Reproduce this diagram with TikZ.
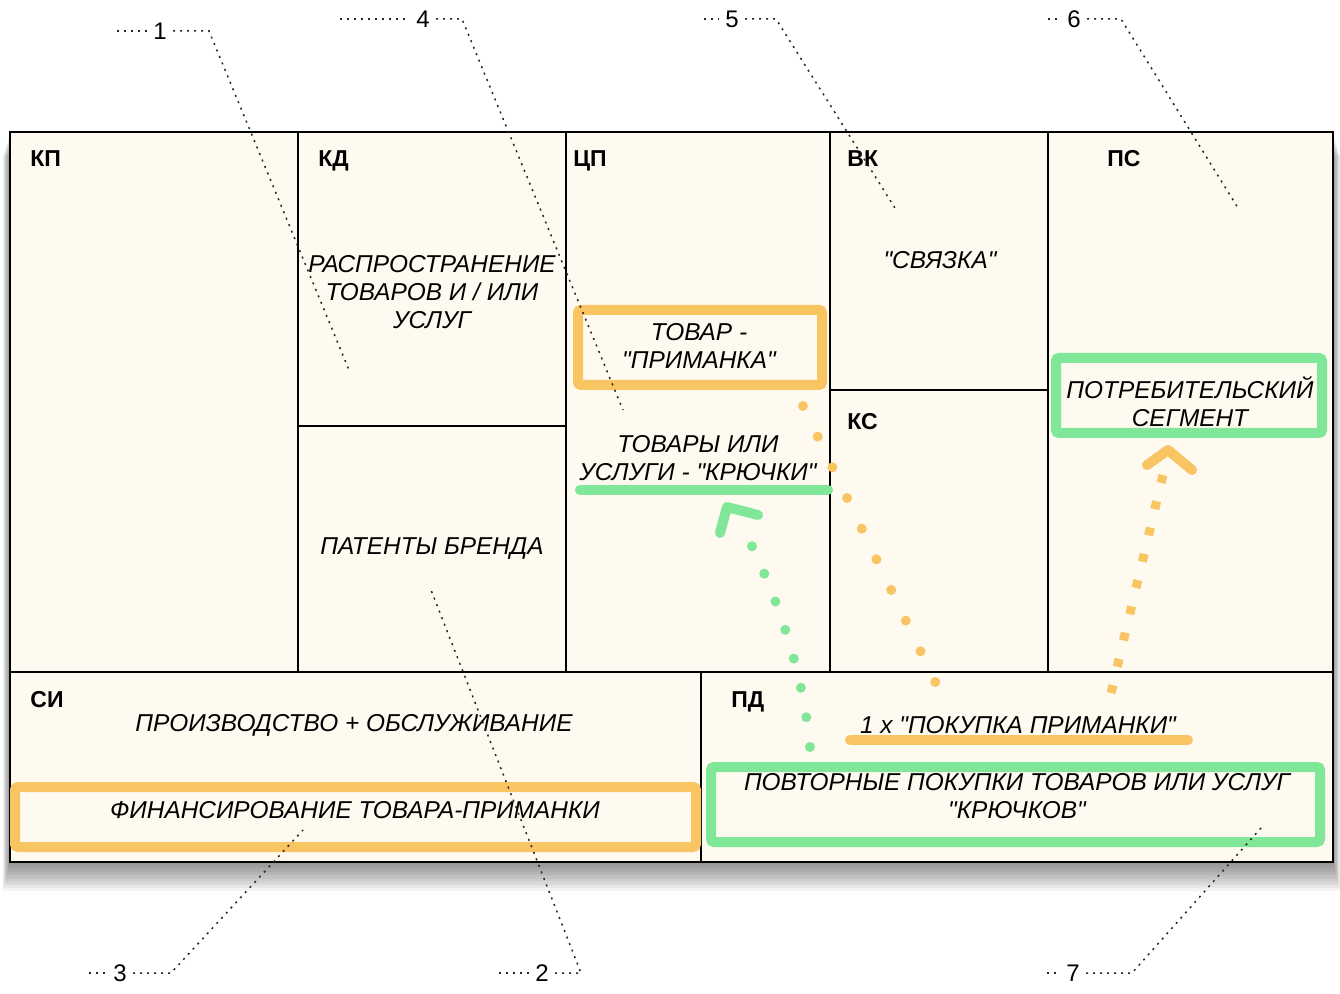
\documentclass[tikz,border=0pt]{standalone}
\usepackage{fontspec}
\setmainfont{Liberation Sans}[Ligatures=TeXOff]
\usetikzlibrary{calc}
\definecolor{cream}{RGB}{254,250,240}
\definecolor{hlor}{RGB}{249,196,98}
\definecolor{hlgr}{RGB}{128,230,152}
\newcommand\qd{\symbol{34}}
\begin{document}
\begin{tikzpicture}[x=0.5pt,y=-0.5pt,
  cell/.style={draw=black,line width=0.8pt},
  tag/.style={font=\bfseries\fontsize{11.5}{13}\selectfont,inner sep=0pt,anchor=base west},
  txt/.style={font=\itshape\fontsize{12.2}{14}\selectfont,align=center,inner sep=0pt},
  num/.style={font=\fontsize{12}{14}\selectfont,inner sep=3pt},
  ldr/.style={draw=black!85,line width=0.75pt,dash pattern=on 1pt off 2.5pt},
  hbox/.style={draw=#1,line width=5pt,rounded corners=1.5pt,inner sep=0pt},
  uline/.style={draw=#1,line width=5pt,line cap=round},
  rdots/.style 2 args={draw=#1,line width=5pt,line cap=round,dash pattern=on 0pt off #2},
  sdots/.style={draw=#1,line width=4.5pt,dash pattern=on 4pt off 9.5pt},
  chev/.style={draw=#1,line width=5pt,line cap=round,line join=round}
]
\useasboundingbox (0,0) rectangle (1340,994);
% shadow
\foreach \i in {1,...,12} {
  \fill[black,opacity=0.045] (10-0.6*\i,132+2*\i) rectangle (1333+0.6*\i,862+2.4*\i);
}
% frame and cells
\fill[cream] (10,132) rectangle (1333,862);
\draw[cell] (298,132) -- (298,672);
\draw[cell] (566,132) -- (566,672);
\draw[cell] (830,132) -- (830,672);
\draw[cell] (1048,132) -- (1048,672);
\draw[cell] (298,426) -- (566,426);
\draw[cell] (830,390) -- (1048,390);
\draw[cell] (10,672) -- (1333,672);
\draw[cell] (701,672) -- (701,862);
\draw[draw=black,line width=1.1pt] (10,132) rectangle (1333,862);

% block tags
\node[tag] (kp) at (30,167) {КП};
\node[tag] (kd) at (318,167) {КД};
\node[tag] (cp) at (573,167) {ЦП};
\node[tag] (vk) at (847,167) {ВК};
\node[tag] (ps) at (1107,167) {ПС};
\node[tag] (ks) at (847,430) {КС};
\node[tag] (si) at (30,708) {СИ};
\node[tag] (pd) at (731,708) {ПД};

% highlight boxes
\node[hbox=hlor,minimum width=122pt,minimum height=37.5pt] (baitbox) at (700,347.5) {};
\node[hbox=hlgr,minimum width=133pt,minimum height=37.5pt] (segbox) at (1189,395.5) {};
\node[hbox=hlgr,minimum width=304.5pt,minimum height=37.5pt] (repbox) at (1015.5,804.5) {};
\node[hbox=hlor,minimum width=340.5pt,minimum height=30pt] (finbox) at (355.5,817) {};

% texts
\node[txt] (distr) at (432,292) {РАСПРОСТРАНЕНИЕ\\ТОВАРОВ И / ИЛИ\\УСЛУГ};
\node[txt] (pat) at (432,549) {ПАТЕНТЫ БРЕНДА};
\node[txt] (bait) at (699,346) {ТОВАР -\\"ПРИМАНКА"};
\node[txt] (hook) at (698,458) {ТОВАРЫ ИЛИ\\УСЛУГИ - "КРЮЧКИ"};
\node[txt] (link) at (940,260) {"СВЯЗКА"};
\node[txt] (seg) at (1190,402) {ПОТРЕБИТЕЛЬСКИЙ\\СЕГМЕНТ};
\node[txt] (prod) at (354,725) {ПРОИЗВОДСТВО + ОБСЛУЖИВАНИЕ};
\node[txt] (fin) at (355,810) {ФИНАНСИРОВАНИЕ ТОВАРА-ПРИМАНКИ};
\node[txt] (once) at (1018,725) {1 x "ПОКУПКА ПРИМАНКИ"};
\node[txt] (rep) at (1017,796) {ПОВТОРНЫЕ ПОКУПКИ ТОВАРОВ ИЛИ УСЛУГ\\"КРЮЧКОВ"};

% underlines
\coordinate (hkL) at (580,490); \coordinate (hkR) at (828,490);
\draw[uline=hlgr] (hkL) -- (hkR);
\coordinate (onL) at (850,740); \coordinate (onR) at (1188,740);
\draw[uline=hlor] (onL) -- (onR);

% orange round-dotted link bait -> one purchase
\coordinate (od1) at (803,406); \coordinate (od2) at (942,696);
\draw[rdots={hlor}{17pt}] (od1) -- (od2);

% green dotted arrow repeat purchases -> hooks
\coordinate (gd1) at (810,747); \coordinate (gd2) at (740,522);
\draw[rdots={hlgr}{15pt}] (gd1) .. controls (802,660) and (770,580) .. (gd2);
\coordinate (gcL) at (720,533); \coordinate (gcA) at (727,507); \coordinate (gcR) at (758,515);
\draw[chev=hlgr] (gcL) -- (gcA) -- (gcR);

% orange square-dotted arrow one purchase -> segment
\coordinate (os1) at (1111,693); \coordinate (os2) at (1166,462);
\draw[sdots=hlor] (os1) -- (os2);
\coordinate (ocL) at (1147,465); \coordinate (ocA) at (1168,450); \coordinate (ocR) at (1192,470);
\draw[chev=hlor] (ocL) -- (ocA) -- (ocR);

% numbered leaders
\node[num] (n1) at (160,31) {1};
\coordinate (a1) at (117,31); \coordinate (b1) at (209,31); \coordinate (c1) at (349,370);
\draw[ldr] (a1) -- (n1); \draw[ldr] (n1) -- (b1) -- (c1);

\node[num] (n4) at (423,19) {4};
\coordinate (a4) at (340,19); \coordinate (b4) at (462,19); \coordinate (c4) at (623,410);
\draw[ldr] (a4) -- (n4); \draw[ldr] (n4) -- (b4) -- (c4);

\node[num] (n5) at (732,19) {5};
\coordinate (a5) at (704,19); \coordinate (b5) at (776,19); \coordinate (c5) at (895,208);
\draw[ldr] (a5) -- (n5); \draw[ldr] (n5) -- (b5) -- (c5);

\node[num] (n6) at (1074,19) {6};
\coordinate (a6) at (1048,19); \coordinate (b6) at (1121,19); \coordinate (c6) at (1238,208);
\draw[ldr] (a6) -- (n6); \draw[ldr] (n6) -- (b6) -- (c6);

\node[num] (n3) at (120,973) {3};
\coordinate (a3) at (89,973); \coordinate (b3) at (171,973); \coordinate (c3) at (303,830);
\draw[ldr] (a3) -- (n3); \draw[ldr] (n3) -- (b3) -- (c3);

\node[num] (n2) at (542,973) {2};
\coordinate (a2) at (499,973); \coordinate (b2) at (581,973); \coordinate (c2) at (431,590);
\draw[ldr] (a2) -- (n2); \draw[ldr] (n2) -- (b2) -- (c2);

\node[num] (n7) at (1073,973) {7};
\coordinate (a7) at (1047,973); \coordinate (b7) at (1132,973); \coordinate (c7) at (1261,828);
\draw[ldr] (a7) -- (n7); \draw[ldr] (n7) -- (b7) -- (c7);
\end{tikzpicture}
\end{document}
